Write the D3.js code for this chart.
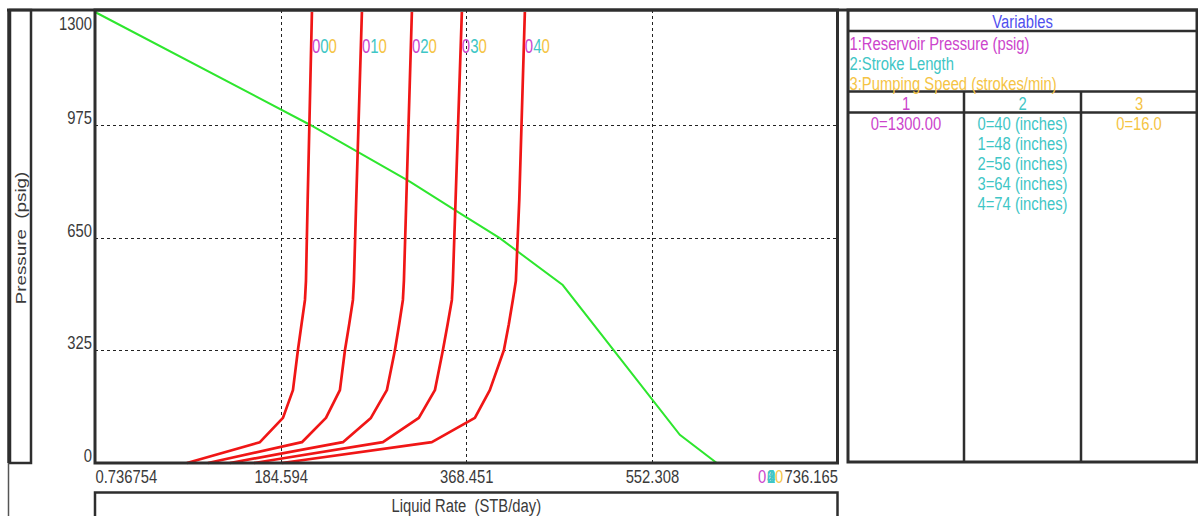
<!DOCTYPE html>
<html>
<head>
<meta charset="utf-8">
<script src="https://cdn.jsdelivr.net/npm/d3@7"></script>
<style>
  html, body { margin: 0; padding: 0; background: #ffffff; }
  svg { display: block; font-family: "Liberation Sans", Arial, sans-serif; }
  text { white-space: pre; }
</style>
</head>
<body>
<svg id="chart" width="1198" height="516"></svg>
<script>
// Axis ticks
const xTicks = [0.736754, 184.594, 368.451, 552.308, 736.165];
const yTicks = [0, 325, 650, 975, 1300];

// Inflow performance (IPR) curve
const iprRate     = [0.74, 213.6, 312.6, 362.0, 401.7, 464.0, 580.0, 616.6, 736.165];
const iprPressure = [1300, 975, 811, 720, 648, 513, 81, 0, 0];

// Pump performance curves, one per stroke length (shared pressure levels)
const pumpPressure = [1300, 760, 525, 470, 400, 325, 210, 130, 60, 0];
const pumpRate = [
  [215.6, 211.4, 209.7, 208.7, 205.3, 201.7, 196.8, 186.9, 164.1, 91.8],
  [265.1, 259.5, 257.2, 256.2, 252.5, 248.3, 243.3, 229.5, 205.7, 112.6],
  [314.6, 309.1, 306.7, 305.7, 302.0, 297.8, 289.8, 274.0, 246.3, 134.4],
  [364.1, 357.9, 355.2, 354.2, 350.0, 345.3, 337.4, 321.5, 285.9, 158.2],
  [426.5, 421.0, 417.6, 414.6, 410.6, 405.7, 391.8, 377.0, 334.4, 185.9]
];

// Sensitivity variables
const variableNames = ["Reservoir Pressure (psig)", "Stroke Length", "Pumping Speed (strokes/min)"];
const reservoirPressure = ["1300.00"];
const strokeLength = ["40 (inches)", "48 (inches)", "56 (inches)", "64 (inches)", "74 (inches)"];
const pumpingSpeed = ["16.0"];

const C1 = "#cc44cc", C2 = "#3fc6c6", C3 = "#f5c445", CV = "#5050ee";
const INK = "#2e2e2e", TXT = "#3a3a3a";
const SY = 1.27, FS = 14.8;

const svg = d3.select("#chart");

function stext(parent, x, y, str, o = {}) {
  return parent.append("text")
    .attr("transform", `translate(${x},${y}) scale(1,${o.sy || SY})`)
    .attr("text-anchor", o.anchor || "start")
    .attr("font-size", o.size || FS)
    .attr("fill", o.fill || TXT)
    .text(str);
}

// Plot frame
const L = 95, R = 837.5, T = 10, B = 463;
const x = d3.scaleLinear().domain([xTicks[0], xTicks[4]]).range([L, R]);
const y = d3.scaleLinear().domain([0, 1300]).range([B, 12]);

// Grid
const grid = svg.append("g").attr("stroke", "#222").attr("stroke-width", 1).attr("stroke-dasharray", "3,3");
grid.selectAll("line.v").data(xTicks.slice(1, 4)).join("line")
  .attr("x1", d => Math.round(x(d)) + 0.5).attr("x2", d => Math.round(x(d)) + 0.5)
  .attr("y1", T).attr("y2", B);
grid.selectAll("line.h").data(yTicks.slice(1, 4)).join("line")
  .attr("y1", d => Math.round(y(d)) + 0.5).attr("y2", d => Math.round(y(d)) + 0.5)
  .attr("x1", L).attr("x2", R);

// IPR curve
const line = d3.line().x(d => x(d[0])).y(d => y(d[1]));
svg.append("path")
  .datum(iprRate.map((q, i) => [q, iprPressure[i]]))
  .attr("d", line).attr("fill", "none").attr("stroke", "#2ee62e").attr("stroke-width", 2);

// Pump curves
pumpRate.forEach(rates => {
  svg.append("path")
    .datum(rates.map((q, i) => [q, pumpPressure[i]]))
    .attr("d", line).attr("fill", "none").attr("stroke", "#f01616").attr("stroke-width", 2.7)
    .attr("stroke-linejoin", "round");
});

// Curve labels
pumpRate.forEach((rates, i) => {
  const t = svg.append("text")
    .attr("transform", `translate(${x(rates[0])},52.5) scale(1,1.35)`)
    .attr("font-size", 15);
  t.append("tspan").attr("fill", C1).text("0");
  t.append("tspan").attr("fill", C2).text(String(i));
  t.append("tspan").attr("fill", C3).text("0");
});

// Axes
const xAxis = svg.append("g").attr("transform", `translate(0,${B})`)
  .call(d3.axisBottom(x).tickValues(xTicks).tickSize(0).tickFormat(d => String(d)));
xAxis.select(".domain").remove();
xAxis.selectAll(".tick text")
  .attr("y", null).attr("dy", null)
  .attr("transform", `translate(0,19.5) scale(1,${SY})`)
  .attr("font-size", FS).attr("font-family", null).attr("fill", TXT)
  .attr("text-anchor", (d, i) => i === 0 ? "start" : i === xTicks.length - 1 ? "end" : "middle");

const yAxis = svg.append("g").attr("transform", `translate(${L},0)`)
  .call(d3.axisLeft(y).tickValues(yTicks).tickSize(0).tickFormat(d => String(d)));
yAxis.select(".domain").remove();
yAxis.selectAll(".tick text")
  .attr("x", null).attr("dy", null)
  .attr("transform", d => `translate(-3,${d === 1300 ? 17 : -1.5}) scale(1,${SY})`)
  .attr("font-size", FS).attr("font-family", null).attr("fill", TXT)
  .attr("text-anchor", "end");

// Overlapping curve labels at the end of the rate axis
stext(svg, 758, B + 19.5, "0", { fill: C1 });
pumpRate.forEach((r, i) => stext(svg, 767, B + 19.5, String(i), { fill: C2 }));
stext(svg, 775, B + 19.5, "0", { fill: C3 });

// Frames
const frame = svg.append("g").attr("fill", "none").attr("stroke", INK);
frame.append("line").attr("x1", 7).attr("x2", 1198).attr("y1", 10).attr("y2", 10).attr("stroke-width", 3);
frame.append("rect").attr("x", L).attr("y", T).attr("width", R - L).attr("height", B - T).attr("stroke-width", 3);
frame.append("rect").attr("x", 10).attr("y", T).attr("width", 21).attr("height", B - T).attr("stroke-width", 2.5);
frame.append("line").attr("x1", 9).attr("x2", 9).attr("y1", T).attr("y2", B).attr("stroke-width", 3.5);
frame.append("line").attr("x1", 8.5).attr("x2", 8.5).attr("y1", B).attr("y2", 516).attr("stroke-width", 1.5).attr("stroke", "#555");
frame.append("rect").attr("x", L).attr("y", 492.5).attr("width", R - L).attr("height", 40).attr("stroke-width", 2.5);

// Axis titles
svg.append("text")
  .attr("transform", `translate(26,238) scale(1,${SY}) rotate(-90)`)
  .attr("text-anchor", "middle").attr("font-size", FS).attr("fill", TXT)
  .text("Pressure  (psig)");
stext(svg, (L + R) / 2, 511.5, "Liquid Rate  (STB/day)", { anchor: "middle" });

// Variables panel
const P = { l: 848, r: 1197, t: 10, b: 462 };
const cols = [P.l, 964, 1081, P.r];
const panel = svg.append("g");
const pf = panel.append("g").attr("fill", "none").attr("stroke", INK).attr("stroke-width", 2.5);
pf.append("rect").attr("x", P.l).attr("y", P.t).attr("width", P.r - P.l).attr("height", P.b - P.t).attr("stroke-width", 3);
[31, 91.5, 112.5].forEach(yy => pf.append("line").attr("x1", P.l).attr("x2", P.r).attr("y1", yy).attr("y2", yy));
[cols[1], cols[2]].forEach(xx => pf.append("line").attr("x1", xx).attr("x2", xx).attr("y1", 91.5).attr("y2", P.b));

stext(panel, (P.l + P.r) / 2, 28, "Variables", { anchor: "middle", fill: CV });
const varColors = [C1, C2, C3];
variableNames.forEach((name, i) => {
  stext(panel, 849.5, 49.5 + i * 20, `${i + 1}:${name}`, { fill: varColors[i] });
});
[0, 1, 2].forEach(i => {
  stext(panel, (cols[i] + cols[i + 1]) / 2, 110, String(i + 1), { anchor: "middle", fill: varColors[i] });
});
const colValues = [reservoirPressure, strokeLength, pumpingSpeed];
colValues.forEach((vals, c) => {
  vals.forEach((v, j) => {
    stext(panel, (cols[c] + cols[c + 1]) / 2, 130 + j * 20.1, `${j}=${v}`, { anchor: "middle", fill: varColors[c] });
  });
});
</script>
</body>
</html>
